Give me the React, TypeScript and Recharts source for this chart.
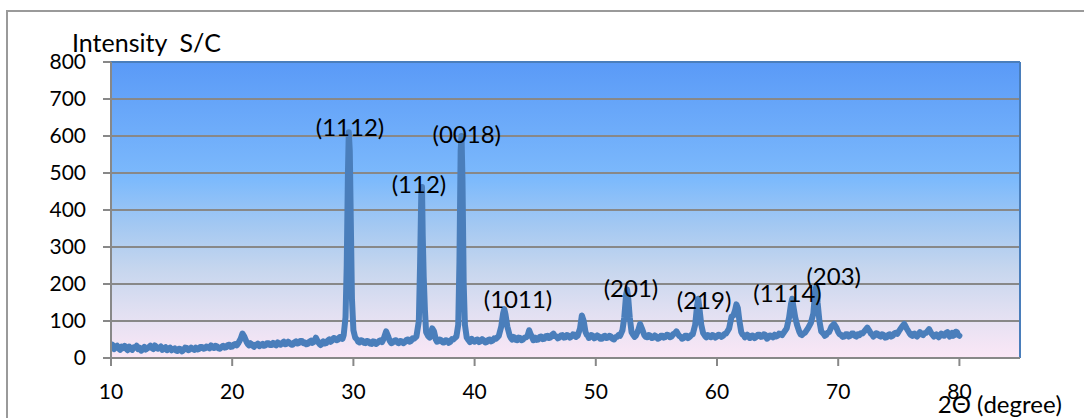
import React from 'react';
import {
  LineChart, Line, XAxis, YAxis, CartesianGrid, ReferenceLine, ReferenceDot,
} from 'recharts';

const scan: [number, number][] = [
  [10.0, 30], [10.12, 36], [10.25, 24], [10.37, 30], [10.5, 33], [10.62, 26], [10.75, 22], [10.87, 31],
  [11.0, 27], [11.12, 33], [11.25, 25], [11.37, 21], [11.5, 31], [11.62, 27], [11.75, 22], [11.87, 29],
  [12.0, 28], [12.12, 33], [12.25, 24], [12.37, 27], [12.5, 20], [12.62, 25], [12.75, 30], [12.87, 23],
  [13.0, 26], [13.12, 29], [13.25, 33], [13.37, 27], [13.5, 24], [13.62, 34], [13.75, 30], [13.87, 25],
  [14.0, 27], [14.12, 31], [14.25, 22], [14.37, 26], [14.5, 29], [14.62, 21], [14.75, 25], [14.87, 28],
  [15.0, 21], [15.12, 24], [15.25, 26], [15.37, 20], [15.5, 19], [15.62, 25], [15.75, 24], [15.87, 18],
  [16.0, 22], [16.12, 28], [16.25, 27], [16.37, 21], [16.5, 23], [16.62, 28], [16.75, 25], [16.87, 22],
  [17.0, 28], [17.12, 23], [17.25, 24], [17.37, 30], [17.5, 30], [17.62, 25], [17.75, 26], [17.87, 31],
  [18.0, 29], [18.12, 26], [18.25, 34], [18.37, 29], [18.5, 27], [18.62, 33], [18.75, 31], [18.87, 26],
  [19.0, 25], [19.12, 30], [19.25, 33], [19.37, 28], [19.5, 29], [19.62, 35], [19.75, 36], [19.87, 30],
  [20.0, 31], [20.12, 36], [20.25, 38], [20.37, 34], [20.5, 40], [20.7, 52], [20.85, 66], [21.0, 58],
  [21.2, 42], [21.3, 37], [21.4, 34], [21.5, 40], [21.6, 38], [21.7, 33], [21.8, 30], [21.9, 36],
  [22.0, 35], [22.12, 39], [22.25, 32], [22.37, 36], [22.5, 38], [22.62, 33], [22.75, 34], [22.87, 40],
  [23.0, 40], [23.12, 35], [23.25, 35], [23.37, 41], [23.5, 37], [23.62, 34], [23.75, 42], [23.87, 38],
  [24.0, 36], [24.12, 41], [24.25, 44], [24.37, 37], [24.5, 38], [24.62, 44], [24.75, 41], [24.87, 36],
  [25.0, 36], [25.12, 42], [25.25, 45], [25.37, 39], [25.5, 40], [25.62, 46], [25.75, 46], [25.87, 40],
  [26.0, 42], [26.12, 37], [26.25, 38], [26.37, 44], [26.5, 47], [26.62, 41], [26.75, 44], [26.9, 55],
  [27.1, 42], [27.2, 38], [27.3, 35], [27.4, 42], [27.5, 45], [27.62, 39], [27.75, 40], [27.87, 47],
  [28.0, 50], [28.12, 44], [28.25, 47], [28.37, 54], [28.5, 53], [28.62, 48], [28.75, 50], [28.87, 57],
  [29.0, 56], [29.1, 52], [29.2, 62], [29.35, 110], [29.45, 250], [29.55, 500], [29.62, 610], [29.7, 560],
  [29.78, 380], [29.88, 160], [30.0, 75], [30.15, 55], [30.3, 50], [30.4, 44], [30.5, 42], [30.62, 48],
  [30.75, 47], [30.87, 41], [31.0, 40], [31.12, 46], [31.25, 45], [31.37, 39], [31.5, 38], [31.62, 45],
  [31.75, 44], [31.87, 38], [32.0, 41], [32.12, 46], [32.25, 48], [32.37, 43], [32.5, 52], [32.7, 72],
  [32.85, 60], [33.0, 46], [33.12, 40], [33.25, 42], [33.37, 47], [33.5, 48], [33.62, 42], [33.75, 40],
  [33.87, 46], [34.0, 45], [34.12, 40], [34.25, 43], [34.37, 49], [34.5, 50], [34.62, 44], [34.75, 46],
  [34.87, 53], [35.0, 52], [35.2, 58], [35.4, 100], [35.5, 250], [35.6, 440], [35.66, 462], [35.72, 330],
  [35.8, 220], [35.9, 130], [36.0, 70], [36.15, 60], [36.3, 55], [36.5, 80], [36.65, 72], [36.8, 50],
  [36.9, 44], [37.0, 45], [37.12, 50], [37.25, 48], [37.37, 42], [37.5, 42], [37.62, 48], [37.75, 47],
  [37.87, 41], [38.0, 44], [38.12, 51], [38.25, 50], [38.37, 54], [38.5, 58], [38.65, 90], [38.75, 260],
  [38.85, 560], [38.92, 600], [39.0, 480], [39.1, 200], [39.2, 90], [39.35, 55], [39.5, 48], [39.62, 43],
  [39.75, 52], [39.87, 47], [40.0, 44], [40.12, 49], [40.25, 50], [40.37, 43], [40.5, 45], [40.62, 51],
  [40.75, 48], [40.87, 42], [41.0, 43], [41.12, 49], [41.25, 50], [41.37, 45], [41.5, 47], [41.62, 53],
  [41.75, 52], [41.87, 55], [42.0, 60], [42.2, 85], [42.35, 120], [42.45, 132], [42.55, 118], [42.7, 85],
  [42.9, 60], [43.0, 54], [43.1, 50], [43.2, 57], [43.3, 55], [43.4, 49], [43.5, 48], [43.62, 55],
  [43.75, 54], [43.87, 48], [44.0, 50], [44.12, 55], [44.25, 56], [44.37, 60], [44.5, 75], [44.65, 62],
  [44.85, 48], [44.95, 52], [45.0, 55], [45.12, 49], [45.25, 50], [45.37, 57], [45.5, 58], [45.62, 51],
  [45.75, 52], [45.87, 59], [46.0, 60], [46.12, 54], [46.25, 55], [46.37, 62], [46.5, 66], [46.62, 59],
  [46.75, 58], [46.87, 53], [47.0, 55], [47.12, 61], [47.25, 62], [47.37, 55], [47.5, 56], [47.62, 62],
  [47.75, 60], [47.87, 55], [48.0, 58], [48.12, 64], [48.25, 63], [48.37, 57], [48.5, 60], [48.7, 80],
  [48.85, 115], [49.0, 100], [49.15, 70], [49.25, 63], [49.35, 60], [49.42, 54], [49.5, 56], [49.62, 62],
  [49.75, 60], [49.87, 53], [50.0, 55], [50.12, 61], [50.25, 58], [50.37, 52], [50.5, 52], [50.62, 58],
  [50.75, 60], [50.87, 54], [51.0, 55], [51.12, 60], [51.25, 58], [51.37, 52], [51.5, 50], [51.62, 56],
  [51.75, 57], [51.87, 62], [52.0, 60], [52.2, 75], [52.35, 110], [52.5, 170], [52.58, 185], [52.68, 160],
  [52.8, 110], [52.95, 70], [53.1, 62], [53.2, 57], [53.3, 60], [53.5, 75], [53.65, 92], [53.8, 80],
  [54.0, 62], [54.12, 57], [54.25, 56], [54.37, 62], [54.5, 60], [54.62, 54], [54.75, 55], [54.87, 61],
  [55.0, 58], [55.12, 52], [55.25, 54], [55.37, 60], [55.5, 60], [55.62, 55], [55.75, 57], [55.87, 63],
  [56.0, 62], [56.12, 56], [56.25, 58], [56.37, 64], [56.5, 66], [56.65, 72], [56.8, 64], [56.9, 59],
  [57.0, 58], [57.12, 52], [57.25, 54], [57.37, 60], [57.5, 60], [57.62, 54], [57.75, 57], [57.87, 62],
  [58.0, 64], [58.2, 90], [58.35, 140], [58.45, 160], [58.55, 135], [58.7, 90], [58.85, 68], [59.0, 60],
  [59.12, 56], [59.25, 62], [59.37, 58], [59.5, 56], [59.62, 62], [59.75, 60], [59.87, 55], [60.0, 58],
  [60.12, 63], [60.25, 62], [60.37, 57], [60.5, 60], [60.62, 65], [60.75, 66], [61.0, 80], [61.2, 112],
  [61.35, 115], [61.5, 130], [61.6, 145], [61.72, 135], [61.85, 100], [62.0, 70], [62.1, 64], [62.2, 62],
  [62.3, 56], [62.4, 58], [62.5, 63], [62.6, 60], [62.7, 54], [62.8, 55], [62.9, 61], [63.0, 60],
  [63.12, 54], [63.25, 57], [63.37, 63], [63.5, 63], [63.62, 57], [63.75, 58], [63.87, 64], [64.0, 62],
  [64.12, 52], [64.25, 55], [64.37, 61], [64.5, 60], [64.62, 56], [64.75, 63], [64.87, 58], [65.0, 60],
  [65.12, 66], [65.25, 65], [65.37, 62], [65.5, 68], [65.75, 80], [65.95, 110], [66.1, 145], [66.2, 160],
  [66.3, 140], [66.45, 110], [66.6, 90], [66.8, 70], [66.9, 64], [67.0, 62], [67.12, 66], [67.25, 68],
  [67.5, 80], [67.75, 95], [67.95, 120], [68.1, 180], [68.2, 195], [68.3, 150], [68.45, 100], [68.6, 72],
  [68.8, 65], [68.9, 60], [69.0, 62], [69.12, 68], [69.25, 70], [69.45, 85], [69.65, 92], [69.85, 82],
  [70.0, 70], [70.12, 64], [70.25, 62], [70.37, 57], [70.5, 58], [70.62, 64], [70.75, 64], [70.87, 58],
  [71.0, 60], [71.12, 66], [71.25, 66], [71.37, 60], [71.5, 58], [71.62, 64], [71.75, 62], [71.87, 67],
  [72.0, 66], [72.2, 74], [72.4, 82], [72.6, 72], [72.7, 66], [72.8, 64], [72.9, 58], [73.0, 60],
  [73.12, 67], [73.25, 66], [73.37, 60], [73.5, 58], [73.62, 64], [73.75, 62], [73.87, 55], [74.0, 56],
  [74.12, 62], [74.25, 64], [74.37, 58], [74.5, 60], [74.62, 66], [74.75, 68], [74.87, 65], [75.0, 72],
  [75.25, 84], [75.45, 92], [75.65, 80], [75.9, 66], [76.0, 62], [76.1, 60], [76.2, 65], [76.3, 66],
  [76.4, 60], [76.5, 58], [76.62, 64], [76.75, 70], [76.87, 64], [77.0, 62], [77.12, 67], [77.25, 68],
  [77.5, 78], [77.7, 66], [77.8, 62], [77.9, 58], [78.0, 62], [78.1, 64], [78.2, 59], [78.3, 56],
  [78.4, 62], [78.5, 66], [78.62, 61], [78.75, 60], [78.87, 67], [79.0, 70], [79.1, 63], [79.2, 58],
  [79.3, 64], [79.4, 68], [79.5, 60], [79.6, 62], [79.7, 71], [79.8, 70], [79.9, 62], [80.0, 60],
];

// Miller-index annotations: [2θ, intensity at text baseline, text]
const peakLabels: [number, number, string][] = [
  [29.72, 601, '(1112)'],
  [35.41, 447, '(112)'],
  [39.35, 581, '(0018)'],
  [43.58, 135, '(1011)'],
  [52.9, 165, '(201)'],
  [58.93, 132, '(219)'],
  [65.82, 152, '(1114)'],
  [69.63, 198, '(203)'],
];

const xTicks = [10, 20, 30, 40, 50, 60, 70, 80];
const yTicks = [0, 100, 200, 300, 400, 500, 600, 700, 800];
const xDomain: [number, number] = [10, 85];
const yDomain: [number, number] = [0, 800];

const yTitle = 'Intensity\u00A0\u00A0S/C';
const xTitle = '2\u0398 (degree)';

const data = scan.map(([x, y]) => ({ x, y }));

const FONT = 'Lato, "Liberation Sans", sans-serif';
const GRID = '#888888';
const BLUE = '#4a7ebb';

export default function App() {
  return (
    <div style={{ position: 'absolute', left: 0, top: 0, width: 1084, height: 418, overflow: 'hidden', background: '#fff' }}>
      <div
        style={{
          position: 'absolute', left: 6, top: 10, width: 1200, height: 500,
          border: '2px solid #9a9a9a', boxSizing: 'border-box',
        }}
      />
      <div style={{ position: 'absolute', left: 0, top: 0 }}>
        <LineChart
          width={1084}
          height={418}
          data={data}
          margin={{ top: 62, right: 64, bottom: 20, left: 0 }}
          style={{ fontFamily: FONT }}
        >
          <defs>
            <linearGradient id="plotBg" x1="0" y1="0" x2="0" y2="1">
              <stop offset="0%" stopColor="#5a9af7" />
              <stop offset="40%" stopColor="#7dbafc" />
              <stop offset="55%" stopColor="#a3c8f2" />
              <stop offset="70%" stopColor="#c6d6ee" />
              <stop offset="85%" stopColor="#e2e0f2" />
              <stop offset="100%" stopColor="#fbe7f6" />
            </linearGradient>
          </defs>
          <CartesianGrid
            vertical={false}
            stroke={GRID}
            strokeWidth={2}
            fill="url(#plotBg)"
            fillOpacity={1}
          />
          <XAxis
            type="number"
            dataKey="x"
            domain={xDomain}
            ticks={xTicks}
            allowDataOverflow
            height={40}
            tickSize={8}
            tickMargin={18}
            axisLine={{ stroke: GRID, strokeWidth: 2 }}
            tickLine={{ stroke: GRID, strokeWidth: 2 }}
            tick={{ fill: '#000', fontSize: 21, fontFamily: FONT }}
            label={({ viewBox }: any) => (
              <text
                x={viewBox.x + viewBox.width + 42}
                y={viewBox.y + 55}
                textAnchor="end"
                fontSize={24}
                fontFamily={FONT}
                fill="#000"
              >
                {xTitle}
              </text>
            )}
          />
          <YAxis
            type="number"
            domain={yDomain}
            ticks={yTicks}
            width={111}
            tickSize={8}
            tickMargin={17}
            axisLine={{ stroke: GRID, strokeWidth: 2 }}
            tickLine={{ stroke: GRID, strokeWidth: 2 }}
            tick={{ fill: '#000', fontSize: 21, fontFamily: FONT }}
            label={() => (
              <text x={72} y={52} textAnchor="start" fontSize={25} fontFamily={FONT} fill="#000">
                {yTitle}
              </text>
            )}
          />
          <ReferenceLine y={800} stroke={BLUE} strokeWidth={2} />
          <ReferenceLine x={85} stroke={BLUE} strokeWidth={2} />
          <Line
            type="linear"
            dataKey="y"
            stroke={BLUE}
            strokeWidth={6}
            strokeLinejoin="round"
            strokeLinecap="round"
            dot={false}
            activeDot={false}
            isAnimationActive={false}
          />
          {peakLabels.map(([x, y, t]) => (
            <ReferenceDot
              key={t}
              x={x}
              y={y}
              r={0}
              ifOverflow="visible"
              shape={(p: any) => (
                <text x={p.cx} y={p.cy} textAnchor="middle" fontSize={24} fontFamily={FONT} fill="#000">
                  {t}
                </text>
              )}
            />
          ))}
        </LineChart>
      </div>
    </div>
  );
}
